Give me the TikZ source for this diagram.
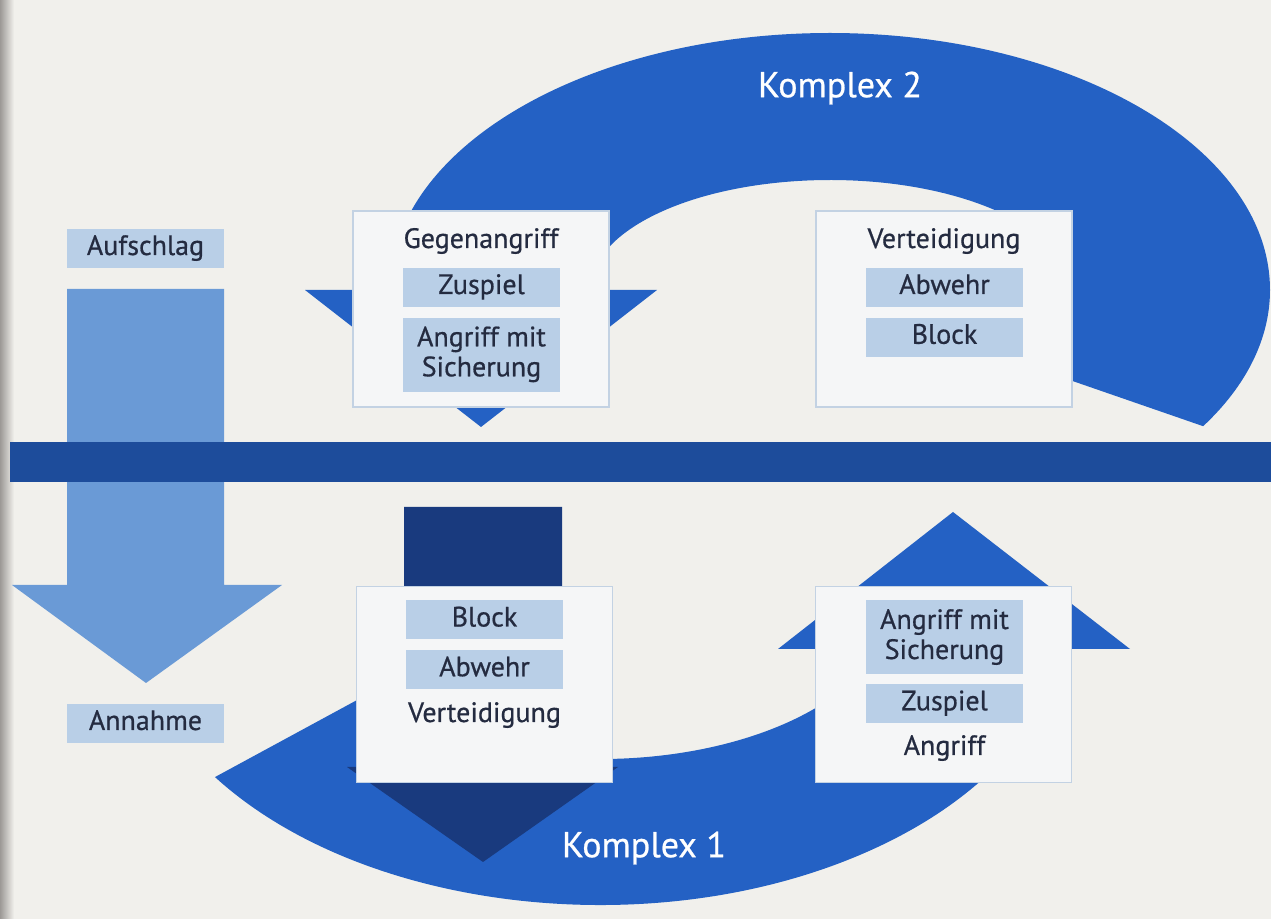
\documentclass[tikz,border=0pt]{standalone}
\usepackage{fontspec}
\setmainfont{PT Sans}[FakeBold=0.6]
\usetikzlibrary{positioning}
\definecolor{paper}{HTML}{F1F0EC}
\definecolor{shadowgray}{HTML}{9C9996}
\definecolor{ringblue}{HTML}{2461C4}
\definecolor{netblue}{HTML}{1D4C9B}
\definecolor{blockblue}{HTML}{193A7E}
\definecolor{serveblue}{HTML}{6A9AD6}
\definecolor{steplight}{HTML}{B9CFE7}
\definecolor{panelfill}{HTML}{F5F6F7}
\definecolor{panelline}{HTML}{C3D2E3}
\definecolor{ink}{HTML}{242B40}
\newcommand{\boxfont}{\fontsize{14}{15}\selectfont}
\newcommand{\ringfont}{\fontsize{18}{20}\selectfont}

\begin{document}
\begin{tikzpicture}[x=0.5pt, y=-0.5pt, node distance=5pt,
  panel/.style={draw=panelline, fill=panelfill, line width=0.8pt, minimum width=128pt, minimum height=98pt, inner sep=0pt},
  stepbox/.style={fill=steplight, text=ink, font=\boxfont, minimum width=78.5pt, minimum height=19.5pt, inner sep=0pt, text height=9.5pt, text depth=3pt, align=center},
  tallbox/.style={stepbox, minimum height=37pt, text height=24.5pt, text depth=3pt},
  phase/.style={text=ink, font=\boxfont, anchor=base, inner sep=0pt},
  ringlabel/.style={text=white, font=\ringfont, inner sep=0pt}]
  \useasboundingbox (0,0) rectangle (1271,919);
  \fill[paper] (0,0) rectangle (1271,919);
  \shade[left color=shadowgray, right color=paper] (0,0) rectangle (14,919);

  \fill[ringblue] (390,290) arc[start angle=180, end angle=392, x radius=440, y radius=257]
    -- ({830+240*cos(40)},{290+110*sin(40)}) arc[start angle=40, end angle=-180, x radius=240, y radius=110]
    -- (657,290) -- (481,427) -- (305,290) -- cycle;
  \fill[ringblue] ({600+470*cos(145)},{605+300*sin(145)}) arc[start angle=145, end angle=8.43, x radius=470, y radius=300]
    -- (1130,649) -- (953,512) -- (778,649)
    -- ({600+290*cos(16.6)},{605+154*sin(16.6)}) arc[start angle=16.6, end angle=144, x radius=290, y radius=154]
    -- cycle;

  \fill[serveblue] (67,289) -- (224,289) -- (224,585) -- (282,585) -- (146,683) -- (12,585) -- (67,585) -- cycle;
  \fill[netblue] (10,442) rectangle (1271,482);
  \fill[blockblue] (404,507) -- (562,507) -- (562,767) -- (618,767) -- (483,862) -- (347,767) -- (404,767) -- cycle;

  \node (aufschlag) [stepbox] at (145.5,248.5) {Aufschlag};
  \node (annahme) [stepbox] at (145.5,723.5) {Annahme};

  \node (k2) [ringlabel] at (840,88) {Komplex 2};
  \node (k1) [ringlabel] at (644,848) {Komplex 1};

  \node (gegen) [panel] at (481,309) {};
  \node (gegentitle) [phase] at (481,248) {Gegenangriff};
  \node (gzuspiel) [stepbox] at (481.5,287.5) {Zuspiel};
  \node (gangriff) [tallbox, below=of gzuspiel] {Angriff mit\\Sicherung};

  \node (vert) [panel] at (944,309) {};
  \node (verttitle) [phase] at (944,248) {Verteidigung};
  \node (vabwehr) [stepbox] at (944.5,287.5) {Abwehr};
  \node (vblock) [stepbox, below=of vabwehr] {Block};

  \node (vert1) [panel] at (484.5,684.5) {};
  \node (bblock) [stepbox] at (484.5,620) {Block};
  \node (babwehr) [stepbox, below=of bblock] {Abwehr};
  \node (vert1title) [phase] at (484.5,722) {Verteidigung};

  \node (angr) [panel] at (943.5,684.5) {};
  \node (aangriff) [tallbox] at (944.5,637.5) {Angriff mit\\Sicherung};
  \node (azuspiel) [stepbox, below=4.5pt of aangriff] {Zuspiel};
  \node (angrtitle) [phase] at (944.5,755) {Angriff};
\end{tikzpicture}
\end{document}
